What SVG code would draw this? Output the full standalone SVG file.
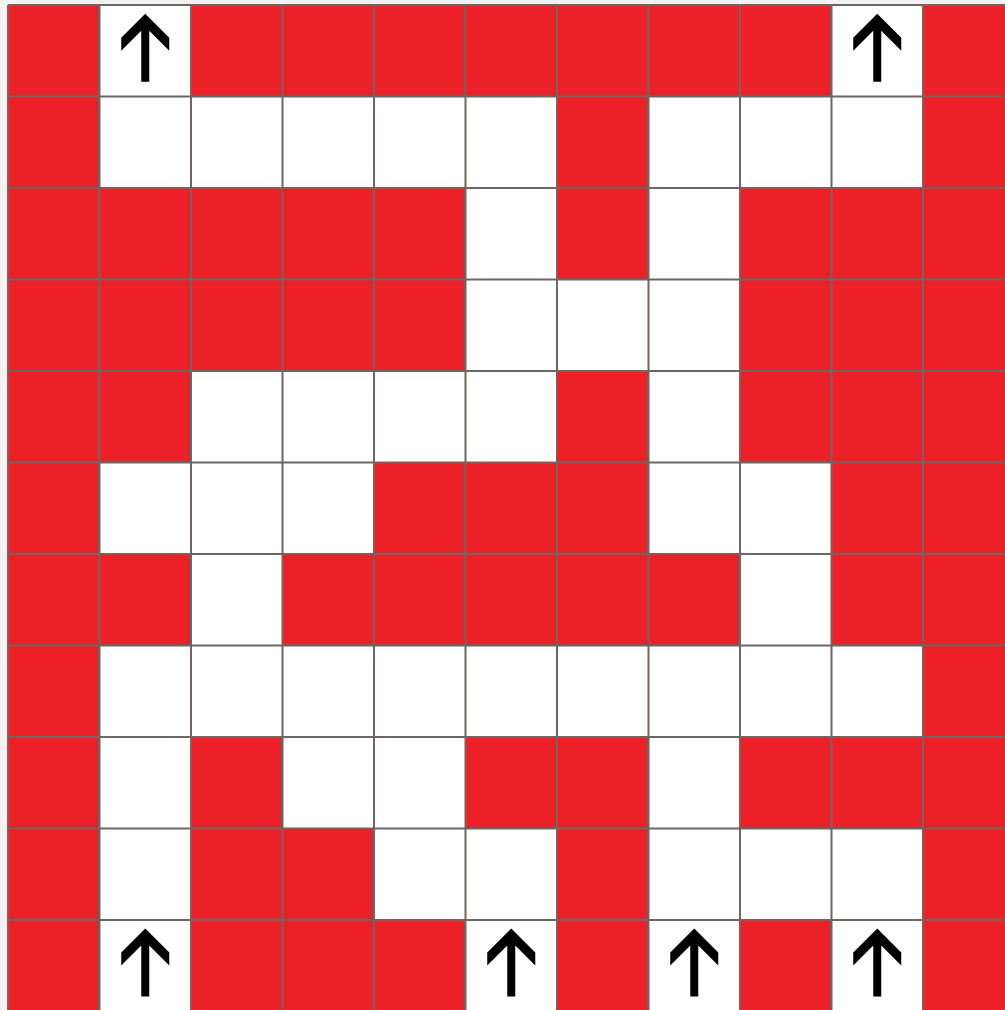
<svg xmlns="http://www.w3.org/2000/svg" width="1005" height="1010" viewBox="0 0 1005 1010">
<style>
.r{fill:#ec2027}
.w{fill:#ffffff}
.g{stroke:#6e6663;stroke-width:2;fill:none}
.a{fill:#000}
</style>
<defs>
<path id="arr" class="a" d="M0,-37 L24,-13 L24,0 L4,-20 L4,31 L-4,31 L-4,-20 L-24,0 L-24,-13 Z"/>
</defs>
<rect x="0" y="0" width="1005" height="1010" fill="#f2f2f2"/>
<g id="cells">
<!-- row 0 -->
<rect class="r" x="8" y="5" width="997" height="1005"/>
<g id="r0">
<rect id="c0-1" class="w" x="99.5" y="5" width="91.5" height="91.5"/>
<rect id="c0-9" class="w" x="831.5" y="5" width="91.5" height="91.5"/>
</g>
<g id="r1">
<rect class="w" x="99.5" y="96.5" width="457.5" height="91.5"/>
<rect class="w" x="648.5" y="96.5" width="274.5" height="91.5"/>
</g>
<g id="r2">
<rect class="w" x="465.5" y="188" width="91.5" height="91.5"/>
<rect class="w" x="648.5" y="188" width="91.5" height="91.5"/>
</g>
<g id="r3">
<rect class="w" x="465.5" y="279.5" width="274.5" height="91.5"/>
</g>
<g id="r4">
<rect class="w" x="191" y="371" width="366" height="91.5"/>
<rect class="w" x="648.5" y="371" width="91.5" height="91.5"/>
</g>
<g id="r5">
<rect class="w" x="99.5" y="462.5" width="274.5" height="91.5"/>
<rect class="w" x="648.5" y="462.5" width="183" height="91.5"/>
</g>
<g id="r6">
<rect class="w" x="191" y="554" width="91.5" height="91.5"/>
<rect class="w" x="740" y="554" width="91.5" height="91.5"/>
</g>
<g id="r7">
<rect class="w" x="99.5" y="645.5" width="823.5" height="91.5"/>
</g>
<g id="r8">
<rect class="w" x="99.5" y="737" width="91.5" height="91.5"/>
<rect class="w" x="282.5" y="737" width="183" height="91.5"/>
<rect class="w" x="648.5" y="737" width="91.5" height="91.5"/>
</g>
<g id="r9">
<rect class="w" x="99.5" y="828.5" width="91.5" height="91.5"/>
<rect class="w" x="374" y="828.5" width="183" height="91.5"/>
<rect class="w" x="648.5" y="828.5" width="274.5" height="91.5"/>
</g>
<g id="r10">
<rect class="w" x="99.5" y="920" width="91.5" height="90"/>
<rect class="w" x="465.5" y="920" width="91.5" height="90"/>
<rect class="w" x="648.5" y="920" width="91.5" height="90"/>
<rect class="w" x="831.5" y="920" width="91.5" height="90"/>
</g>
</g>
<g id="grid" class="g">
<path d="M8,5 V1010 M99.5,5 V1010 M191,5 V1010 M282.5,5 V1010 M374,5 V1010 M465.5,5 V1010 M557,5 V1010 M648.5,5 V1010 M740,5 V1010 M831.5,5 V1010 M923,5 V1010"/>
<path d="M8,5 H1005 M8,96.5 H1005 M8,188 H1005 M8,279.5 H1005 M8,371 H1005 M8,462.5 H1005 M8,554 H1005 M8,645.5 H1005 M8,737 H1005 M8,828.5 H1005 M8,920 H1005"/>
</g>
<g id="arrows">
<use href="#arr" x="145.25" y="50.75"/>
<use href="#arr" x="877.25" y="50.75"/>
<use href="#arr" x="145.25" y="965.5"/>
<use href="#arr" x="511.25" y="965.5"/>
<use href="#arr" x="694.25" y="965.5"/>
<use href="#arr" x="877.25" y="965.5"/>
</g>
</svg>
